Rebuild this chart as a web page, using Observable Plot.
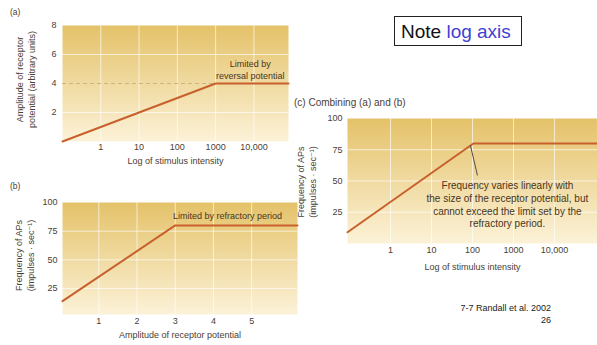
<!DOCTYPE html>
<html><head><meta charset="utf-8">
<script src="https://cdn.jsdelivr.net/npm/d3@7"></script>
<script src="https://cdn.jsdelivr.net/npm/@observablehq/plot@0.6"></script>
<style>
body{margin:0;background:#fff;font-family:"Liberation Sans",Arial,sans-serif;}
#wrap{position:relative;width:597px;height:345px;overflow:hidden;background:#fff;}
.abs{position:absolute;line-height:1;white-space:nowrap;}
.plot{position:absolute;}
.plot svg{overflow:visible;}
</style>
</head><body><div id="wrap"></div>
<script>
// ---- data ----
const stimA = [0.1, 1000, 80000];
const ampA = [0, 4, 4];
const ampB = [0.05, 3, 6.2];
const freqB = [14, 80, 80];
const stimC = [0.0891, 105, 112200];
const freqC = [9, 80, 80];
const logTicks = [1, 10, 100, 1000, 10000];
const logTickLabels = ["1", "10", "100", "1000", "10,000"];
const ampTicksY = [2, 4, 6, 8];
const ampTicksX = [1, 2, 3, 4, 5];
const ampTickLabels = ["1", "2", "3", "4", "5"];
const freqTicks = [25, 50, 75, 100];
const pointerC = [{x1: 89, y1: 78.5, x2: 132, y2: 54.5}];

const labelA = "Amplitude of receptor\npotential (arbitrary units)";
const labelFreq = "Frequency of APs\n(impulses \u00b7 sec\u207b\u00b9)";
const labelLog = "Log of stimulus intensity";
const labelAmp = "Amplitude of receptor potential";
const noteA = "Limited by\nreversal potential";
const noteB = "Limited by refractory period";
const noteC = "Frequency varies linearly with\nthe size of the receptor potential, but\ncannot exceed the limit set by the\nrefractory period.";

// ---- style ----
const lineColor = "#c8602c";
const bgTop = "#e4c269";
const bgBottom = "#fcf2d8";
const textColor = "#4a4036";
const font = "Liberation Sans, DejaVu Sans, Arial, sans-serif";

const wrap = document.getElementById("wrap");

function addGradient(svg, id) {
  const defs = d3.select(svg).insert("defs", ":first-child");
  const g = defs.append("linearGradient").attr("id", id)
    .attr("x1", 0).attr("y1", 0).attr("x2", 0).attr("y2", 1);
  g.append("stop").attr("offset", "0%").attr("stop-color", bgTop);
  g.append("stop").attr("offset", "100%").attr("stop-color", bgBottom);
}

function place(svg, left, top, id) {
  addGradient(svg, id);
  const d = document.createElement("div");
  d.className = "plot";
  d.style.left = left + "px";
  d.style.top = top + "px";
  d.appendChild(svg);
  wrap.appendChild(d);
}

function addText(txt, left, top, size, color, extra) {
  const d = document.createElement("div");
  d.className = "abs";
  d.style.left = left + "px";
  d.style.top = top + "px";
  d.style.fontSize = size + "px";
  d.style.color = color;
  if (extra) Object.assign(d.style, extra);
  d.innerHTML = txt;
  wrap.appendChild(d);
  return d;
}

const baseStyle = {fontFamily: font, fontSize: "9px", color: textColor, background: "transparent", overflow: "visible"};

// ---- panel (a) ----
const plotA = Plot.plot({
  width: 300, height: 170,
  marginTop: 25, marginBottom: 29, marginLeft: 62, marginRight: 12,
  style: baseStyle,
  x: {type: "log", domain: [0.1, 80000], ticks: logTicks, tickFormat: d => logTickLabels[logTicks.indexOf(d)], tickSize: 0, tickPadding: 2, label: null},
  y: {domain: [0, 8], ticks: ampTicksY, tickSize: 0, tickPadding: 6, label: null},
  marks: [
    Plot.frame({fill: "url(#gA)", stroke: "none"}),
    Plot.ruleX(logTicks, {stroke: "#fff", strokeOpacity: 0.65}),
    Plot.ruleY([2, 6], {stroke: "#fff", strokeOpacity: 0.65}),
    Plot.ruleY([4], {stroke: "#cbb57a", strokeDasharray: "4,3", strokeWidth: 1}),
    Plot.line(stimA.map((s, i) => ({s, v: ampA[i]})), {x: "s", y: "v", stroke: lineColor, strokeWidth: 2}),
    Plot.text([noteA], {text: d => d, x: 8000, y: 4.97, fontSize: 9, fill: "#4a3520", lineHeight: 1.3}),
    Plot.text([labelLog], {text: d => d, frameAnchor: "bottom", dy: 20, lineAnchor: "middle", fontSize: 9, fill: textColor}),
    Plot.text([labelA], {text: d => d, frameAnchor: "left", dx: -37, dy: -4, rotate: -90, textAnchor: "middle", lineAnchor: "middle", lineHeight: 1.3, fontSize: 9, fill: textColor})
  ]
});
place(plotA, 0, 0, "gA");

// ---- panel (b) ----
const plotB = Plot.plot({
  width: 300, height: 170,
  marginTop: 27, marginBottom: 31, marginLeft: 62, marginRight: 3,
  style: baseStyle,
  x: {domain: [0.05, 6.2], ticks: ampTicksX, tickFormat: d => ampTickLabels[ampTicksX.indexOf(d)], tickSize: 0, tickPadding: 3, label: null},
  y: {domain: [2.4, 100], ticks: freqTicks, tickSize: 0, tickPadding: 5, label: null},
  marks: [
    Plot.frame({fill: "url(#gB)", stroke: "none"}),
    Plot.ruleX(ampTicksX, {stroke: "#fff", strokeOpacity: 0.65}),
    Plot.ruleY([25, 50, 75], {stroke: "#fff", strokeOpacity: 0.65}),
    Plot.line(ampB.map((a, i) => ({a, f: freqB[i]})), {x: "a", y: "f", stroke: lineColor, strokeWidth: 2}),
    Plot.text([noteB], {text: d => d, x: 4.37, y: 88, fontSize: 9, fill: "#4a3520"}),
    Plot.text([labelAmp], {text: d => d, frameAnchor: "bottom", dy: 21, lineAnchor: "middle", fontSize: 9, fill: textColor}),
    Plot.text([labelFreq], {text: d => d, frameAnchor: "left", dx: -38, dy: -3, rotate: -90, textAnchor: "middle", lineAnchor: "middle", lineHeight: 1.3, fontSize: 9, fill: textColor})
  ]
});
place(plotB, 0, 175, "gB");

// ---- panel (c) ----
const plotC = Plot.plot({
  width: 307, height: 185,
  marginTop: 23, marginBottom: 37, marginLeft: 57, marginRight: 0,
  style: baseStyle,
  x: {type: "log", domain: [0.0891, 112200], ticks: logTicks, tickFormat: d => logTickLabels[logTicks.indexOf(d)], tickSize: 0, tickPadding: 3, label: null},
  y: {domain: [0, 100], ticks: freqTicks, tickSize: 0, tickPadding: 5, label: null},
  marks: [
    Plot.frame({fill: "url(#gC)", stroke: "none"}),
    Plot.ruleX(logTicks, {stroke: "#fff", strokeOpacity: 0.65}),
    Plot.ruleY([25, 50, 75], {stroke: "#fff", strokeOpacity: 0.65}),
    Plot.line(stimC.map((s, i) => ({s, f: freqC[i]})), {x: "s", y: "f", stroke: lineColor, strokeWidth: 2}),
    Plot.link(pointerC, {x1: "x1", y1: "y1", x2: "x2", y2: "y2", stroke: "#5a4a3a", strokeWidth: 1}),
    Plot.text([noteC], {text: d => d, x: 710, y: 31.4, fontSize: 10, fill: "#4a3520", lineHeight: 1.27}),
    Plot.text([labelLog], {text: d => d, frameAnchor: "bottom", dy: 24, lineAnchor: "middle", fontSize: 9, fill: textColor}),
    Plot.text([labelFreq], {text: d => d, frameAnchor: "left", dx: -41, dy: 1, rotate: -90, textAnchor: "middle", lineAnchor: "middle", lineHeight: 1.3, fontSize: 9, fill: textColor})
  ]
});
place(plotC, 290, 95, "gC");

// ---- surrounding text ----
addText("(a)", 10, 8, 8.5, textColor);
addText("(b)", 10, 182, 8.5, textColor);
addText("(c) Combining (a) and (b)", 294, 98, 10, textColor);

addText('Note <span style="color:#3f3fd4">log axis</span>', 394, 16, 19, "#111",
  {border: "1px solid #222", width: "128px", height: "30px", boxSizing: "border-box", paddingLeft: "6px", paddingTop: "5px"});

addText("7-7 Randall et al. 2002<br>26", 451, 302, 9, "#222", {textAlign: "right", width: "100px", lineHeight: "12px"});
</script>
</body></html>
